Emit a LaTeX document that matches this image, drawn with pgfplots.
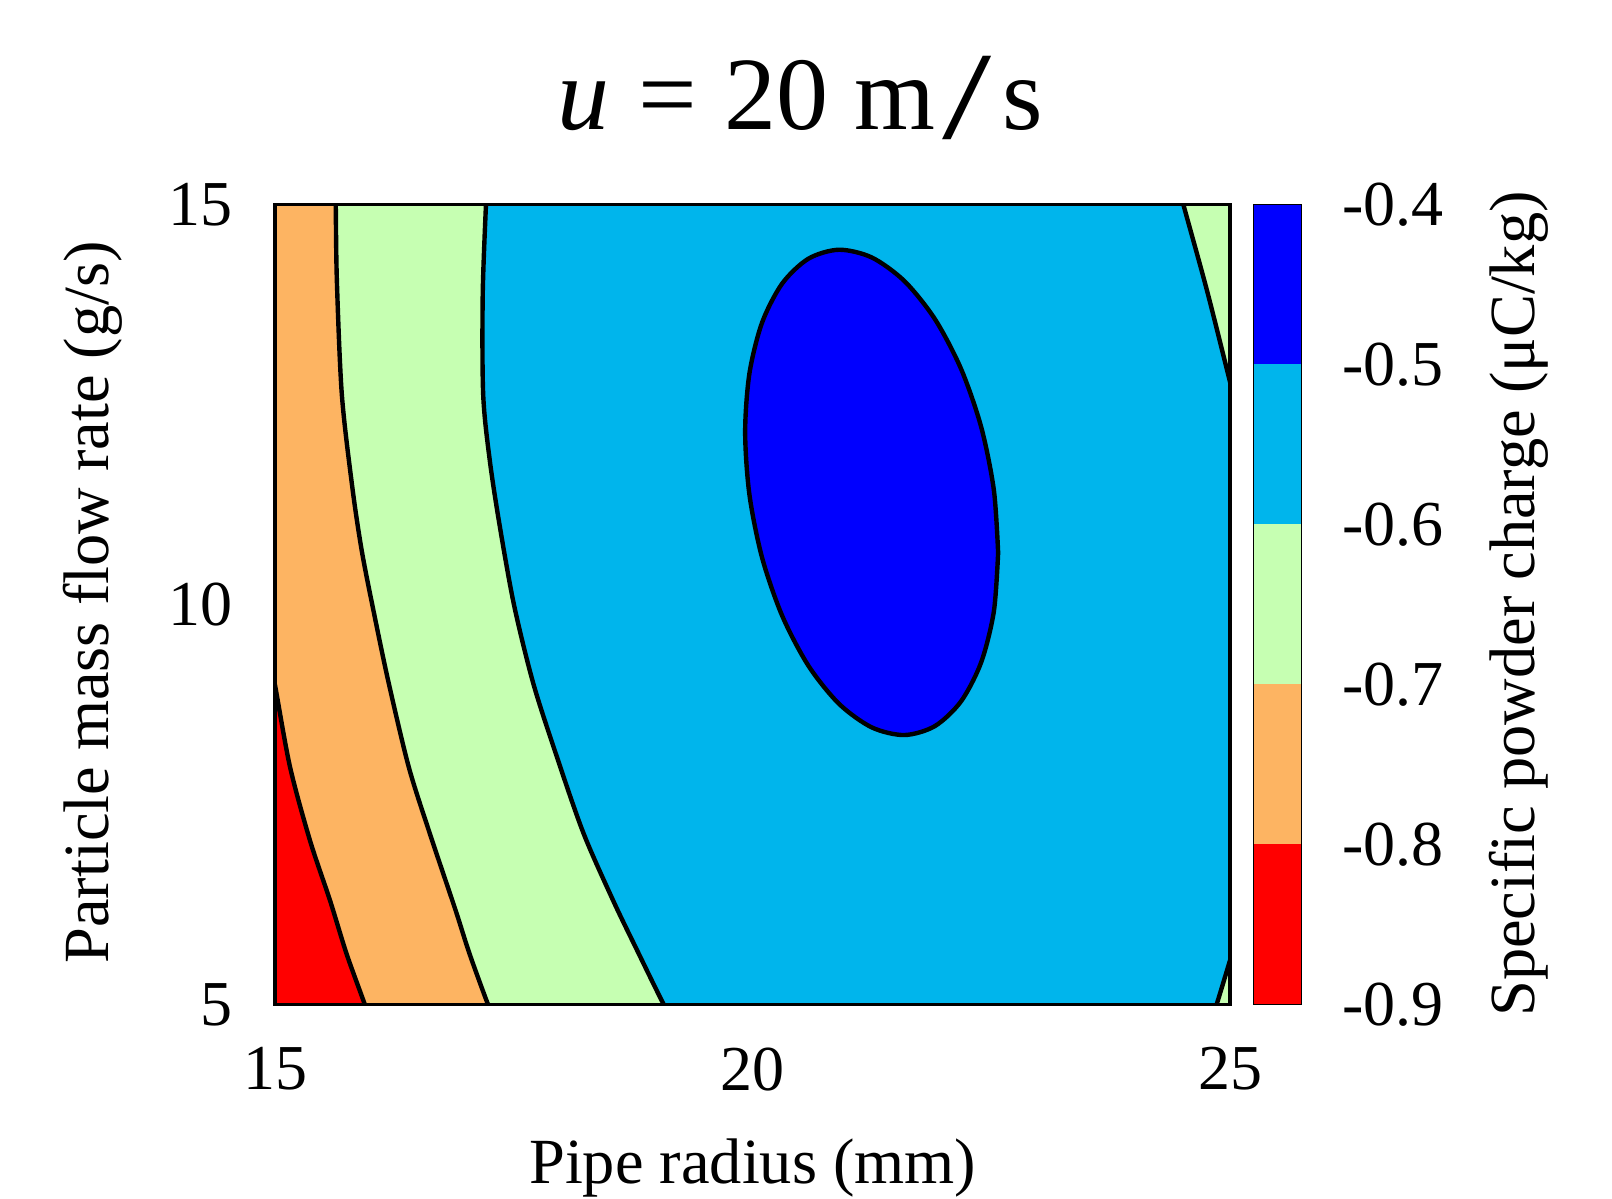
\documentclass[border=0pt]{standalone}
\usepackage{fontspec}
\setmainfont{Liberation Serif}
\usepackage{graphicx}
\usepackage{pgfplots}
\pgfplotsset{compat=1.18}
\definecolor{cR}{RGB}{255,0,0}
\definecolor{cO}{RGB}{253,180,98}
\definecolor{cG}{RGB}{198,255,178}
\definecolor{cC}{RGB}{0,181,236}
\definecolor{cB}{RGB}{0,0,255}
\begin{document}
\begin{tikzpicture}
\path (0pt,0pt) rectangle (403pt,299.5pt);
\begin{axis}[
  at={(68.75pt,48.4pt)}, anchor=south west,
  width=238.75pt, height=200pt, scale only axis,
  xmin=15, xmax=25, ymin=5, ymax=15,
  xtick={15,20,25}, xticklabels={15,20,25},
  ytick={5,10,15}, yticklabels={5,10,15},
  major tick length=0pt,
  axis on top,
  axis line style={line width=0.85pt},
  axis background/.style={fill=cC},
  tick label style={font=\fontsize{16}{19}\selectfont, inner sep=0pt},
  xticklabel style={anchor=north, yshift=-10.6pt},
  yticklabel style={anchor=east, xshift=-10.5pt},
  contour/.style={smooth, black, line width=1.1pt},
]
% -0.7 to -0.6 level (light green)
\addplot[fill=cG, draw=none] coordinates {(17.209,15.0)(17.175,13.87)(17.18,12.62)(17.25,11.79)(17.356,10.96)(17.505,9.98)(17.705,9.01)(17.95,8.10)(18.23,7.14)(18.54,6.30)(18.79,5.68)(19.07,5.0)(15,5)(15,15)};
% -0.8 to -0.7 level (orange)
\addplot[fill=cO, draw=none] coordinates {(15.636,15.0)(15.648,14.04)(15.70,12.62)(15.81,11.46)(15.91,10.66)(16.04,9.87)(16.19,9.02)(16.40,7.97)(16.62,7.14)(16.89,6.18)(17.035,5.64)(17.23,5.0)(15,5)(15,15)};
% -0.9 to -0.8 level (red)
\addplot[fill=cR, draw=none] coordinates {(15.0,8.99)(15.157,7.97)(15.366,7.05)(15.576,6.30)(15.75,5.63)(15.94,5.0)(15,5)};
% right-hand corners (light green)
\addplot[fill=cG, draw=none] coordinates {(24.511,15.0)(24.756,13.936)(24.99,12.83)(25,12.8)(25,15)};
\addplot[fill=cG, draw=none] coordinates {(24.86,5.0)(25,5.55)(25,5)};
% -0.5 to -0.4 level (blue)
\addplot[smooth, fill=cB, draw=black, line width=1.1pt] coordinates {
(22.572,10.645)(22.527,11.431)(22.395,12.215)(22.184,12.943)(21.910,13.566)(21.590,14.042)(21.248,14.337)(20.905,14.433)(20.585,14.321)(20.311,14.011)(20.100,13.522)(19.968,12.889)(19.923,12.155)(19.968,11.369)(20.100,10.585)(20.311,9.857)(20.585,9.234)(20.905,8.758)(21.248,8.463)(21.590,8.367)(21.910,8.479)(22.184,8.789)(22.395,9.278)(22.527,9.911)(22.572,10.645)};
% contour lines
\addplot[contour] coordinates {(14.9,9.6)(15.0,8.99)(15.157,7.97)(15.366,7.05)(15.576,6.30)(15.75,5.63)(15.94,5.0)(16.05,4.6)};
\addplot[contour] coordinates {(15.63,15.5)(15.636,15.0)(15.648,14.04)(15.70,12.62)(15.81,11.46)(15.91,10.66)(16.04,9.87)(16.19,9.02)(16.40,7.97)(16.62,7.14)(16.89,6.18)(17.035,5.64)(17.23,5.0)(17.4,4.5)};
\addplot[contour] coordinates {(17.23,15.5)(17.209,15.0)(17.175,13.87)(17.18,12.62)(17.25,11.79)(17.356,10.96)(17.505,9.98)(17.705,9.01)(17.95,8.10)(18.23,7.14)(18.54,6.30)(18.79,5.68)(19.07,5.0)(19.3,4.5)};
\addplot[contour] coordinates {(24.4,15.5)(24.511,15.0)(24.756,13.936)(24.99,12.83)(25.1,12.3)};
\addplot[contour] coordinates {(24.8,4.8)(24.86,5.0)(25,5.55)(25.05,5.75)};
\end{axis}
\begin{axis}[
  at={(313.3pt,48.4pt)}, anchor=south west,
  width=12.1pt, height=200pt, scale only axis,
  xmin=0, xmax=1, ymin=-0.9, ymax=-0.4,
  xtick=\empty,
  ytick={-0.9,-0.8,-0.7,-0.6,-0.5,-0.4},
  yticklabels={-0.9,-0.8,-0.7,-0.6,-0.5,-0.4},
  yticklabel pos=right,
  major tick length=0pt,
  axis on top,
  axis line style={line width=0.35pt},
  tick label style={font=\fontsize{16}{19}\selectfont, inner sep=0pt},
  yticklabel style={anchor=west, xshift=10pt},
]
\addplot[fill=cR, draw=none] coordinates {(0,-0.9)(1,-0.9)(1,-0.8)(0,-0.8)};
\addplot[fill=cO, draw=none] coordinates {(0,-0.8)(1,-0.8)(1,-0.7)(0,-0.7)};
\addplot[fill=cG, draw=none] coordinates {(0,-0.7)(1,-0.7)(1,-0.6)(0,-0.6)};
\addplot[fill=cC, draw=none] coordinates {(0,-0.6)(1,-0.6)(1,-0.5)(0,-0.5)};
\addplot[fill=cB, draw=none] coordinates {(0,-0.5)(1,-0.5)(1,-0.4)(0,-0.4)};
\end{axis}
\node[anchor=base west, inner sep=0pt, font=\fontsize{26}{30}\selectfont] at (139.25pt,267pt) {\textit{u}\hspace{7.25pt}=\hspace{6.74pt}20\hspace{6.45pt}m\hspace{1.85pt}\raisebox{-2.2pt}{\scalebox{1.7}[1.2]{/}}\hspace{2.8pt}s};
\node[anchor=base, inner sep=0pt, font=\fontsize{16.1}{19}\selectfont] at (188.2pt,3.6pt) {Pipe radius (mm)};
\node[rotate=90, anchor=base, inner sep=0pt, font=\fontsize{16.1}{19}\selectfont] at (27.2pt,148.9pt) {Particle mass flow rate (g/s)};
\node[rotate=90, anchor=base, inner sep=0pt, font=\fontsize{16.1}{19}\selectfont] at (383.5pt,148.5pt) {Specific powder charge (μC/kg)};
\end{tikzpicture}
\end{document}
